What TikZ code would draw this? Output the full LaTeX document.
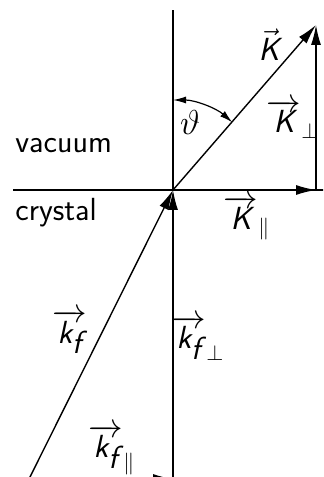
\documentclass[tikz,border=0pt]{standalone}
\usetikzlibrary{arrows.meta}
\newcommand{\sk}[1]{\mbox{\sffamily\itshape #1}}
\begin{document}
\begin{tikzpicture}[x=0.5pt,y=0.5pt,
  every node/.style={font=\fontsize{16}{19}\selectfont\sffamily, inner sep=1pt},
  ln/.style={line width=0.7pt},
  vec/.style={ln,-{Latex[length=10pt,width=5pt]}},
  ang/.style={line width=0.6pt,{Latex[length=6.5pt,width=3.5pt]}-{Latex[length=6.5pt,width=3.5pt]}}]
\useasboundingbox (0,0) rectangle (323,477);
\clip (0,0) rectangle (323,477);
\coordinate (O) at (173,287);
\coordinate (T) at (173,467);
\coordinate (L) at (13,287);
\coordinate (R) at (335,287);
\coordinate (P) at (316,287);
\coordinate (Kt) at (316,452);
\coordinate (B) at (29,-2);
\coordinate (F) at (173,-2);
\draw[ln] (O) -- (T);
\draw[ln] (L) -- (R);
\draw[vec] (O) -- (Kt);
\draw[vec] (O) -- (P);
\draw[vec] (P) -- (Kt);
\draw[vec] (B) -- (O);
\draw[vec] (F) -- (O);
\draw[vec] (B) -- (F);
\draw[ang] (173,377) arc[start angle=90, end angle=48.7, radius=90];
\node (lK) at (269,432) {$\vec{\sk{K}}$};
\node (lKp) at (293,358) {$\overrightarrow{\sk{K}}_{\perp}$};
\node (lKl) at (247,259) {$\overrightarrow{\sk{K}}_{\parallel}$};
\node (lth) at (190,354) {$\vartheta$};
\node[anchor=base west] (vac) at (13,324) {vacuum};
\node[anchor=base west] (cry) at (13,256) {crystal};
\node (lkf) at (70,145) {$\overrightarrow{\sk{k}_{\sk{f}}}$};
\node (lkfp) at (198,139) {$\overrightarrow{\sk{k}_{\sk{f}}}_{\perp}$};
\node (lkfl) at (112,27) {$\overrightarrow{\sk{k}_{\sk{f}}}_{\parallel}$};
\end{tikzpicture}
\end{document}
